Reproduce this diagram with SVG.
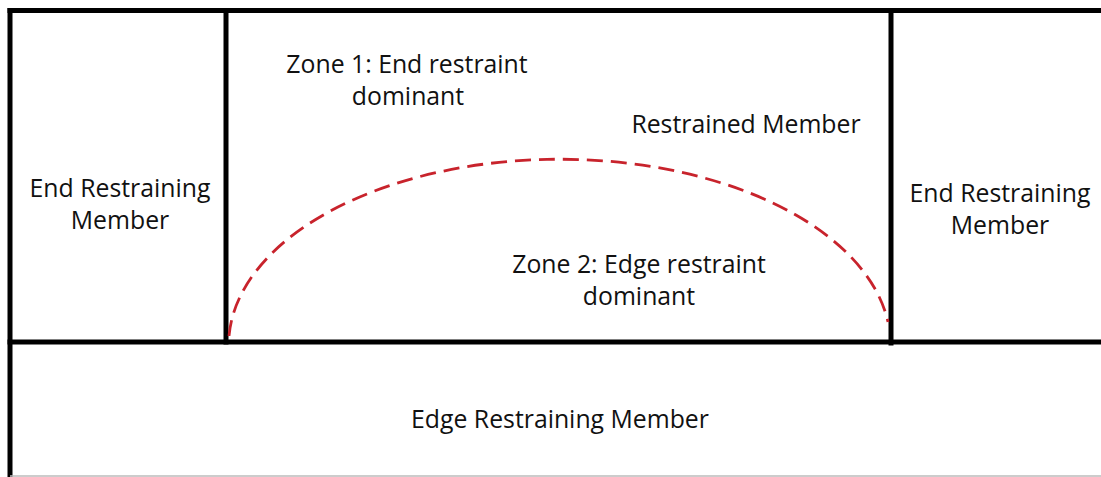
<svg xmlns="http://www.w3.org/2000/svg" width="1101" height="477" viewBox="0 0 1101 477">
  <style>
    .wall { stroke: #000; stroke-width: 5; fill: none; stroke-linecap: square; }
    .lbl { font-family: "Open Sans", "Noto Sans", sans-serif; font-size: 24.8px; fill: #111; text-anchor: middle; }
    .zone { stroke: #c8232c; stroke-width: 2.8; fill: none; stroke-dasharray: 16 8; }
  </style>
  <rect width="1101" height="477" fill="#fff"/>
  <g id="frame">
    <line class="wall" x1="10" y1="10.5" x2="1103" y2="10.5"/>
    <line class="wall" x1="10" y1="10.5" x2="10" y2="480"/>
    <line class="wall" x1="10" y1="342" x2="1103" y2="342"/>
    <line x1="10" y1="476" x2="1101" y2="476" stroke="#bbb" stroke-width="1.5"/>
  </g>
  <g id="end-left">
    <line class="wall" x1="226" y1="10.5" x2="226" y2="342"/>
    <text class="lbl" x="120" y="196.5">End Restraining</text>
    <text class="lbl" x="120" y="228.5">Member</text>
  </g>
  <g id="end-right">
    <line class="wall" x1="891" y1="10.5" x2="891" y2="343"/>
    <text class="lbl" x="1000" y="201.5">End Restraining</text>
    <text class="lbl" x="1000" y="234">Member</text>
  </g>
  <g id="restrained-member">
    <text class="lbl" x="746" y="133">Restrained Member</text>
    <text class="lbl" x="407" y="72.5">Zone 1: End restraint</text>
    <text class="lbl" x="408" y="104.5">dominant</text>
    <text class="lbl" x="639" y="273">Zone 2: Edge restraint</text>
    <text class="lbl" x="639" y="305">dominant</text>
  </g>
  <g id="edge-member">
    <text class="lbl" x="560" y="428">Edge Restraining Member</text>
  </g>
  <g id="connectors">
    <path class="zone" d="M 229 336 A 331 186 0 0 1 888 322"/>
  </g>
</svg>
